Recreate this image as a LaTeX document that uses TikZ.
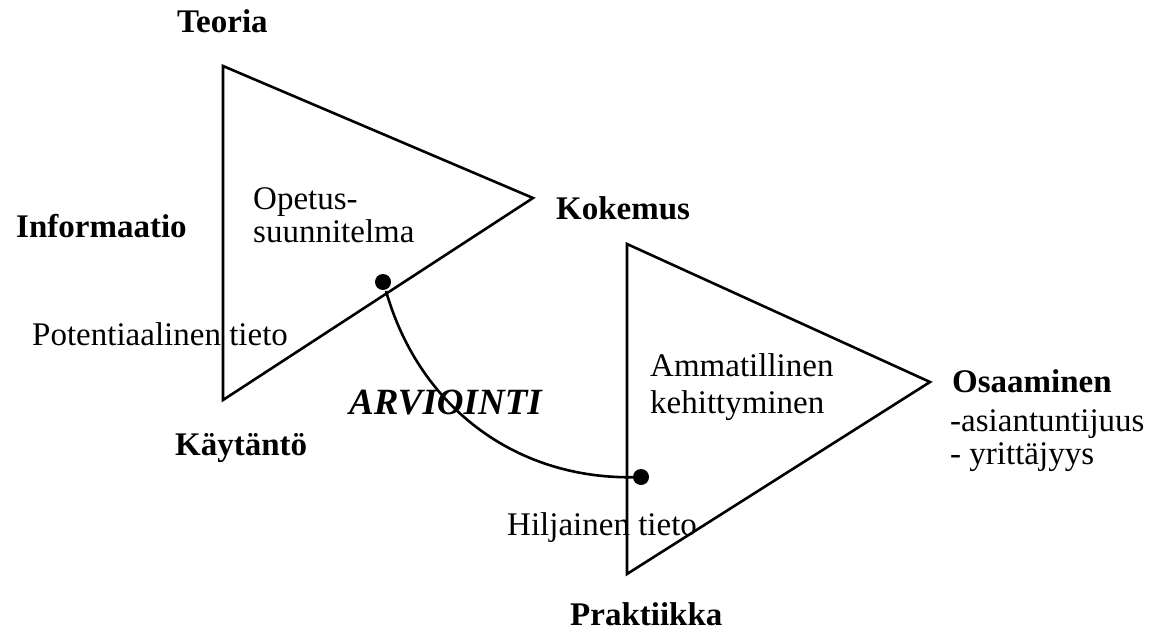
\documentclass[tikz,border=0pt]{standalone}
\usepackage{fontspec}
\setmainfont{Liberation Serif}
\tikzset{
  tri/.style={line width=2.6pt, line join=miter},
  lbl/.style={anchor=base west, inner sep=0pt, font=\fontsize{33}{39}\selectfont},
  blbl/.style={lbl, font=\fontsize{33}{39}\selectfont\bfseries},
  dot/.style={circle, fill=black, inner sep=0pt, minimum size=16pt},
  link/.style={line width=2.6pt}
}
\begin{document}
\begin{tikzpicture}[x=1pt, y=-1pt]
\useasboundingbox (0,0) rectangle (1150,631);
% triangle 1
\coordinate (a1) at (223,66);
\coordinate (a2) at (533,198);
\coordinate (a3) at (223,400);
\draw[tri] (a1) -- (a2) -- (a3) -- cycle;
% triangle 2
\coordinate (b1) at (627,244);
\coordinate (b2) at (930,382);
\coordinate (b3) at (627,574);
\draw[tri] (b1) -- (b2) -- (b3) -- cycle;
% labels
\node[blbl] (teoria) at (177,33) {Teoria};
\node[blbl] (info) at (16,237) {Informaatio};
\node[blbl] (kok) at (556,219) {Kokemus};
\node[lbl] (op1) at (253,209) {Opetus-};
\node[lbl] (op2) at (253,242) {suunnitelma};
\node[lbl] (pot) at (32,345) {Potentiaalinen tieto};
\node[blbl] (kay) at (175,455) {Käytäntö};
\node[lbl, font=\fontsize{37}{42}\selectfont\bfseries\itshape] (arv) at (349,414) {ARVIOINTI};
\node[lbl] (am1) at (650,376) {Ammatillinen};
\node[lbl] (am2) at (650,413) {kehittyminen};
\node[lbl] (hil) at (507,535) {Hiljainen tieto};
\node[blbl] (osa) at (952,392) {Osaaminen};
\node[lbl] (as) at (950,431) {-asiantuntijuus};
\node[lbl] (yr) at (950,464) {- yrittäjyys};
\node[blbl] (prak) at (570,625) {Praktiikka};
% dots and curve
\node[dot] (d1) at (383,282) {};
\node[dot] (d2) at (641,477) {};
\coordinate (s1) at (386,291);
\draw[link] (s1) .. controls (420,410) and (520,482) .. (d2.center);
\end{tikzpicture}
\end{document}
